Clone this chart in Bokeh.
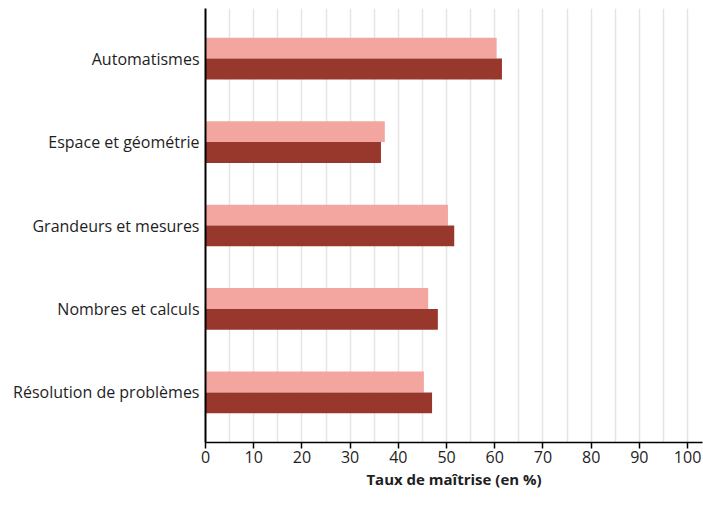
from bokeh.plotting import figure
from bokeh.models import (ColumnDataSource, FactorRange, Range1d, FixedTicker, Legend,
                          LegendItem)
from bokeh.transform import dodge
from bokeh.embed import file_html
from bokeh.resources import INLINE

categories = ["Automatismes", "Espace et géométrie", "Grandeurs et mesures",
              "Nombres et calculs", "Résolution de problèmes"]
national = [60.4, 37.2, 50.3, 46.2, 45.3]
strasbourg = [61.5, 36.4, 51.6, 48.2, 47.0]
series_names = ["NATIONAL", "STRASBOURG"]
x_ticks = [0, 10, 20, 30, 40, 50, 60, 70, 80, 90, 100]
grid_ticks = [5, 10, 15, 20, 25, 30, 35, 40, 45, 50, 55, 60, 65, 70, 75, 80, 85, 90, 95, 100]

FONT = "Open Sans"
TXT = "#1e1e1e"
C_NAT = "#f3a6a0"
C_STR = "#98382d"

src = ColumnDataSource(dict(cat=categories, nat=national, stra=strasbourg))

p = figure(
    y_range=FactorRange(factors=categories[::-1], range_padding=0.04),
    x_range=Range1d(0, 103.1),
    frame_width=497, frame_height=434,
    output_backend="svg", toolbar_location=None,
    min_border_left=205, min_border_right=1, min_border_top=8, min_border_bottom=0,
)
p.outline_line_color = None
p.background_fill_color = "white"

r1 = p.hbar(y=dodge("cat", 0.125, range=p.y_range), right="nat", left=0, height=0.25,
            source=src, fill_color=C_NAT, line_color=None)
r2 = p.hbar(y=dodge("cat", -0.125, range=p.y_range), right="stra", left=0, height=0.25,
            source=src, fill_color=C_STR, line_color=None)

# x axis
xa = p.xaxis[0]
xa.ticker = FixedTicker(ticks=x_ticks)
xa.axis_label = "Taux de maîtrise (en %)"
xa.axis_label_text_font = FONT
xa.axis_label_text_font_style = "bold"
xa.axis_label_text_font_size = "15px"
xa.axis_label_text_color = TXT
xa.axis_label_standoff = 3
xa.major_label_text_font = FONT
xa.major_label_text_font_size = "16px"
xa.major_label_text_color = TXT
xa.major_label_standoff = 2
xa.major_tick_out = 6
xa.major_tick_in = 0
xa.minor_tick_out = 0
xa.minor_tick_in = 0
xa.major_tick_line_color = "black"
xa.major_tick_line_width = 1.5
xa.axis_line_color = "black"
xa.axis_line_width = 1.5

# y axis
ya = p.yaxis[0]
ya.major_label_text_font = FONT
ya.major_label_text_font_size = "16px"
ya.major_label_text_color = TXT
ya.major_label_standoff = 6
ya.major_tick_out = 0
ya.major_tick_in = 0
ya.axis_line_color = "black"
ya.axis_line_width = 2

p.xgrid.ticker = FixedTicker(ticks=grid_ticks)
p.xgrid.grid_line_color = "#e4e4e4"
p.xgrid.grid_line_width = 1.5
p.ygrid.grid_line_color = None

legend = Legend(
    items=[LegendItem(label=series_names[0], renderers=[r1]),
           LegendItem(label=series_names[1], renderers=[r2])],
    orientation="horizontal",
    location="center",
    glyph_width=13, glyph_height=13,
    label_standoff=5, spacing=17, padding=0, margin=0,
    label_text_font=FONT, label_text_font_size="15px", label_text_color=TXT,
    border_line_color=None, background_fill_alpha=0,
)
p.add_layout(legend, "below")

open("out.html", "w").write(file_html(p, INLINE))
